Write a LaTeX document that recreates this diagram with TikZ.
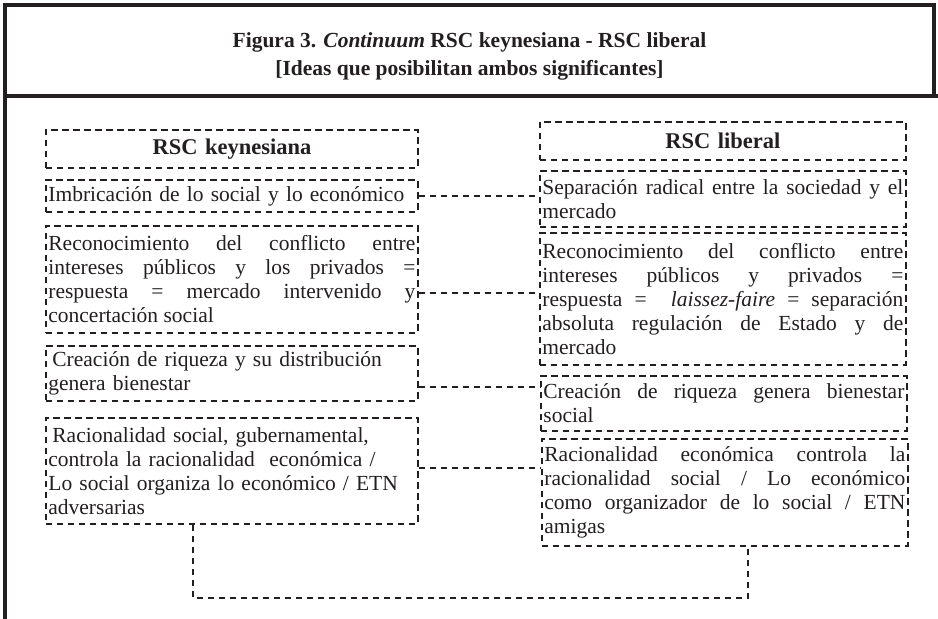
\documentclass[tikz,border=0pt]{standalone}
\usepackage{fontspec}
\setmainfont{Liberation Serif}
\definecolor{ink}{RGB}{35,31,32}
% one fully justified line of a cell
\newcommand\jl[1]{\hbox to \hsize{#1}}
\begin{document}
\begin{tikzpicture}[x=1pt,y=-1pt]
\tikzset{
  frameline/.style={draw=ink, line width=3.4pt},
  dashline/.style={draw=ink, line width=1.8pt, dash pattern=on 6.5pt off 4.5pt},
  cell/.style={dashline, anchor=north west, inner xsep=2.5pt, inner ysep=0pt,
    text=ink, font=\fontsize{21.5}{24}\selectfont},
  leftcell/.style={cell, minimum width=372pt, text width=367pt},
  rightcell/.style={cell, minimum width=366pt, text width=361pt},
  head/.style={align=center, font=\fontsize{22.5}{24}\selectfont\bfseries},
}
\useasboundingbox (0,0) rectangle (938,619);

% outer frame and header rule
\draw[frameline] (5,619) -- (5,5) -- (934,5) -- (934,96);
\draw[frameline] (5,96) -- (938,96);

\node[text=ink, font=\fontsize{21.5}{28}\selectfont\bfseries, align=center] (title) at (469.5,56)
  {Figura 3. \textit{Continuum} RSC keynesiana - RSC liberal\\ {[Ideas que posibilitan ambos significantes]}};

% left column
\node[leftcell, head, minimum height=38pt] (LH) at (45,129) {RSC keynesiana};
\node[leftcell, align=left, minimum height=32pt] (L1) at (45,179)
  {Imbricación de lo social y lo económico};
\node[leftcell, align=justify, minimum height=107pt] (L2) at (45,225)
  {\jl{Reconocimiento del conflicto entre}\par
   \jl{intereses públicos y los privados =}\par
   \jl{respuesta = mercado intervenido y}\par
   concertación social};
\node[leftcell, align=left, minimum height=55pt] (L3) at (45,345)
  {\hspace*{4pt}Creación de riqueza y su distribución\\ genera bienestar};
\node[leftcell, align=left, minimum height=106pt] (L4) at (45,417)
  {\hspace*{4pt}Racionalidad social, gubernamental,\\ controla la racionalidad\ \ económica /\\
   Lo social organiza lo económico / ETN\\ adversarias};

% right column
\node[rightcell, head, minimum height=38pt] (RH) at (539,121) {RSC liberal};
\node[rightcell, align=justify, minimum height=56pt] (R1) at (539,170)
  {\jl{Separación radical entre la sociedad y el}\par mercado};
\node[rightcell, align=justify, minimum height=132pt] (R2) at (539,232)
  {\jl{Reconocimiento del conflicto entre}\par
   \jl{intereses públicos y privados =}\par
   \jl{respuesta = \ \textit{laissez-faire} = separación}\par
   \jl{absoluta regulación de Estado y de}\par
   mercado};
\node[rightcell, align=justify, minimum height=55pt] (R3) at (540,375)
  {\jl{Creación de riqueza genera bienestar}\par social};
\node[rightcell, align=justify, minimum height=107pt] (R4) at (541,438)
  {\jl{Racionalidad económica controla la}\par
   \jl{racionalidad social / Lo económico}\par
   \jl{como organizador de lo social / ETN}\par
   amigas};

% connectors between the two columns
\coordinate (k2) at (0,293);
\coordinate (k3) at (0,387);
\coordinate (k4) at (0,468);
\draw[dashline] (L1.east) -- (L1.east -| R1.west);
\draw[dashline] (L2.east |- k2) -- (R2.west |- k2);
\draw[dashline] (L3.east |- k3) -- (R3.west |- k3);
\draw[dashline] (L4.east |- k4) -- (R4.west |- k4);

% closing loop under the last pair
\coordinate (b1) at (193,598);
\coordinate (b2) at (748,598);
\draw[dashline] (L4.south -| b1) -- (b1) -- (b2) -- (R4.south -| b2);
\end{tikzpicture}
\end{document}
